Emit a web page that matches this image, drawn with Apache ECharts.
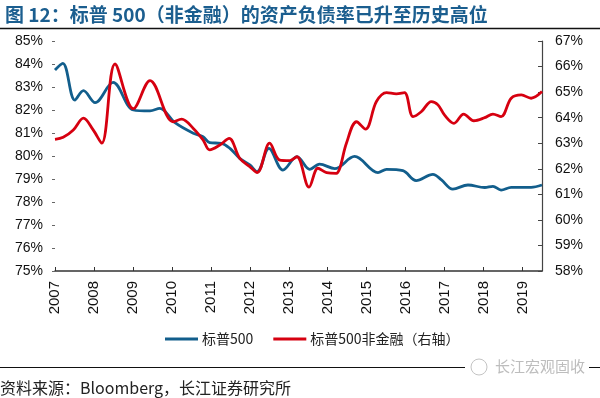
<!DOCTYPE html>
<html>
<head>
<meta charset="utf-8">
<script src="https://cdn.jsdelivr.net/npm/echarts@6/dist/echarts.min.js"></script>
<style>
    html, body {margin: 0; padding: 0; background: #fff;}
    #chart {width: 600px; height: 398px;}
</style>
</head>
<body>
<div id="chart"></div>
<script>
// 标普500 资产负债率（左轴），按年份小数读取
var blueYears = [2007.0, 2007.2, 2007.51, 2007.73, 2008.03, 2008.49, 2009.01, 2009.44, 2009.69, 2010.08,
    2010.55, 2010.8, 2010.97, 2011.27, 2011.49, 2011.74, 2012.0, 2012.19, 2012.49, 2012.85,
    2013.21, 2013.54, 2013.79, 2014.18, 2014.69, 2015.29, 2015.51, 2015.93, 2016.27, 2016.7,
    2016.92, 2017.21, 2017.6, 2018.03, 2018.24, 2018.45, 2018.71, 2019.22, 2019.5];
var blueValues = [83.74, 84.03, 82.43, 82.84, 82.32, 83.2, 82.0, 81.96, 82.07, 81.45,
    80.99, 80.84, 80.58, 80.55, 80.33, 79.9, 79.61, 79.32, 80.33, 79.39,
    79.97, 79.42, 79.65, 79.45, 79.98, 79.28, 79.42, 79.36, 78.93, 79.2,
    78.96, 78.56, 78.74, 78.63, 78.68, 78.52, 78.64, 78.64, 78.74];

// 标普500非金融 资产负债率（右轴）
var redYears = [2007.0, 2007.21, 2007.47, 2007.73, 2007.98, 2008.2, 2008.54, 2009.01, 2009.44, 2010.03,
    2010.25, 2010.55, 2010.8, 2010.97, 2011.23, 2011.47, 2011.74, 2012.0, 2012.19, 2012.51,
    2012.77, 2013.03, 2013.21, 2013.52, 2013.75, 2013.97, 2014.22, 2014.31, 2014.48, 2014.74,
    2014.97, 2015.25, 2015.51, 2015.76, 2015.97, 2016.19, 2016.4, 2016.66, 2016.83, 2017.0,
    2017.24, 2017.49, 2017.75, 2018.03, 2018.24, 2018.45, 2018.71, 2018.97, 2019.22, 2019.5];
var redValues = [63.15, 63.23, 63.52, 63.98, 63.52, 63.0, 66.1, 64.35, 65.45, 63.84,
    63.94, 63.58, 63.13, 62.74, 62.93, 63.19, 62.41, 62.08, 61.85, 63.0,
    62.34, 62.32, 62.47, 61.28, 62.02, 61.85, 61.82, 62.02, 63.0, 63.84,
    63.55, 64.63, 64.98, 64.93, 64.98, 64.04, 64.23, 64.63, 64.5, 64.1,
    63.78, 64.14, 63.88, 64.0, 64.14, 64.04, 64.76, 64.89, 64.76, 65.02];

var seriesNames = ['标普500', '标普500非金融（右轴）'];
var titleText = '图 12：标普 500（非金融）的资产负债率已升至历史高位';
var sourceText = '资料来源：Bloomberg，长江证券研究所';

var FONT = 'Arial, "Liberation Sans", "Noto Sans CJK SC", sans-serif';
var CJK = '"Noto Sans CJK SC", "Liberation Sans", sans-serif';
var BLUE = '#125e8c';
var RED = '#d60010';

function zip(xs, ys) {
    return xs.map(function (x, i) { return [x, ys[i]]; });
}

var chart = echarts.init(document.getElementById('chart'), null, {renderer: 'canvas'});

var option = {
    animation: false,
    backgroundColor: '#fff',
    title: {
        text: titleText,
        left: 0,
        top: 0,
        textStyle: {
            fontFamily: CJK,
            fontSize: 19,
            fontWeight: 'bold',
            color: '#1b5e8f'
        }
    },
    legend: {
        left: 160,
        top: 327,
        itemWidth: 33,
        itemHeight: 3,
        itemGap: 20,
        icon: 'rect',
        data: seriesNames,
        textStyle: {
            fontFamily: CJK,
            fontSize: 14,
            color: '#222',
            padding: [0, 0, 0, -1]
        }
    },
    grid: {
        left: 55,
        right: 58,
        top: 41,
        bottom: 127
    },
    xAxis: {
        type: 'value',
        min: 2007,
        max: 2019.5,
        interval: 1,
        splitLine: {show: false},
        axisLine: {
            onZero: false,
            lineStyle: {color: '#333', width: 1.5}
        },
        axisTick: {
            inside: true,
            length: 4,
            lineStyle: {color: '#333'}
        },
        axisLabel: {
            rotate: 90,
            margin: 10,
            showMaxLabel: false,
            fontFamily: FONT,
            fontSize: 15,
            color: '#111',
            formatter: function (v) {
                return v % 1 === 0 ? String(v) : '';
            }
        }
    },
    yAxis: [
        {
            type: 'value',
            min: 75,
            max: 85,
            interval: 1,
            splitLine: {show: false},
            axisLine: {show: false},
            axisTick: {
                show: true,
                length: 3,
                lineStyle: {color: '#666'}
            },
            axisLabel: {
                margin: 12,
                fontFamily: FONT,
                fontSize: 14,
                color: '#111',
                formatter: '{value}%'
            }
        },
        {
            type: 'value',
            min: 58,
            max: 67,
            interval: 1,
            position: 'right',
            splitLine: {show: false},
            axisLine: {
                show: true,
                lineStyle: {color: '#444', width: 1.2}
            },
            axisTick: {
                show: true,
                inside: true,
                length: 4,
                lineStyle: {color: '#444'}
            },
            axisLabel: {
                margin: 13,
                fontFamily: FONT,
                fontSize: 14,
                color: '#111',
                formatter: '{value}%'
            }
        }
    ],
    series: [
        {
            name: seriesNames[0],
            type: 'line',
            yAxisIndex: 0,
            smooth: 0.35,
            showSymbol: false,
            lineStyle: {color: BLUE, width: 2.8},
            itemStyle: {color: BLUE},
            data: zip(blueYears, blueValues)
        },
        {
            name: seriesNames[1],
            type: 'line',
            yAxisIndex: 1,
            smooth: 0.35,
            showSymbol: false,
            lineStyle: {color: RED, width: 2.8},
            itemStyle: {color: RED},
            data: zip(redYears, redValues)
        }
    ],
    graphic: [
        {
            type: 'line',
            shape: {x1: 0, y1: 28.5, x2: 600, y2: 28.5},
            style: {stroke: '#111', lineWidth: 1.5}
        },
        {
            type: 'line',
            shape: {x1: 0, y1: 367.5, x2: 600, y2: 367.5},
            style: {stroke: '#111', lineWidth: 1.2}
        },
        {
            type: 'rect',
            shape: {x: 465, y: 357, width: 124, height: 20},
            style: {fill: '#fff'}
        },
        {
            type: 'circle',
            shape: {cx: 479, cy: 367, r: 8},
            style: {fill: 'none', stroke: '#c4c4c4', lineWidth: 1}
        },
        {
            type: 'text',
            left: 495,
            top: 359,
            style: {
                text: '长江宏观固收',
                fill: '#bdbdbd',
                font: '15px ' + CJK
            }
        },
        {
            type: 'text',
            left: 0,
            top: 380,
            style: {
                text: sourceText,
                fill: '#222',
                font: '16px ' + CJK
            }
        }
    ]
};

chart.setOption(option);
</script>
</body>
</html>
